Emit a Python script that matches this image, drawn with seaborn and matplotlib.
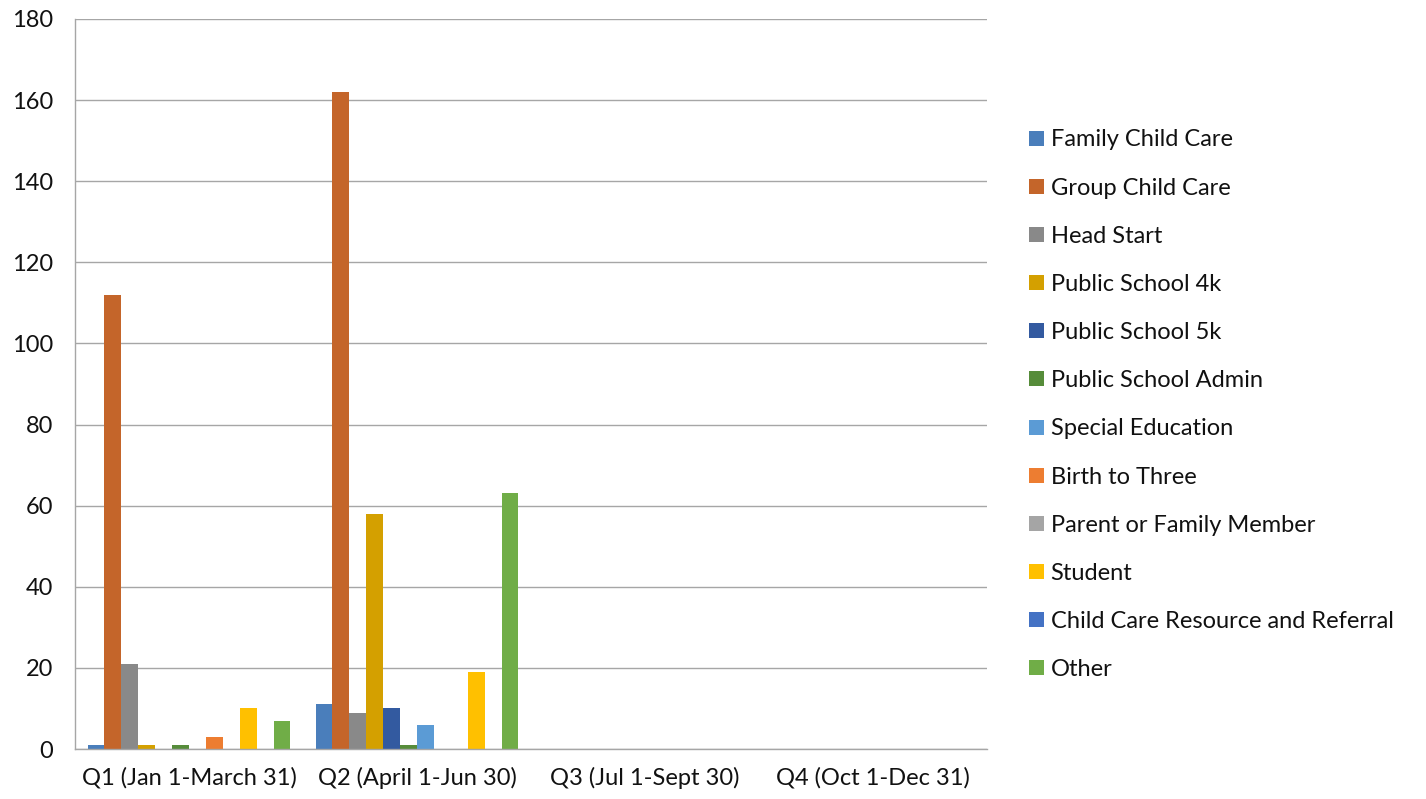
import numpy as np
import pandas as pd
import matplotlib
matplotlib.use("Agg")
import matplotlib.pyplot as plt
import seaborn as sns

# ---- data ----
quarters = ["Q1 (Jan 1-March 31)", "Q2 (April 1-Jun 30)",
            "Q3 (Jul 1-Sept 30)", "Q4 (Oct 1-Dec 31)"]
roles = ["Family Child Care", "Group Child Care", "Head Start",
         "Public School 4k", "Public School 5k", "Public School Admin",
         "Special Education", "Birth to Three", "Parent or Family Member",
         "Student", "Child Care Resource and Referral", "Other"]
q1_counts = [1, 112, 21, 1, 0, 1, 0, 3, 0, 10, 0, 7]
q2_counts = [11, 162, 9, 58, 10, 1, 6, 0, 0, 19, 0, 63]
q3_counts = [0] * 12
q4_counts = [0] * 12
colors = ["#4A7EBB", "#C4652A", "#898989", "#D4A000", "#335AA0", "#568C3A",
          "#5B9BD5", "#ED7D31", "#A5A5A5", "#FFC000", "#4472C4", "#70AD47"]

rows = []
for q, vals in zip(quarters, [q1_counts, q2_counts, q3_counts, q4_counts]):
    for r, v in zip(roles, vals):
        rows.append({"quarter": q, "role": r, "count": v})
df = pd.DataFrame(rows)

sns.set_style("white")
plt.rcParams["font.family"] = ["Lato", "DejaVu Sans"]
plt.rcParams["text.color"] = "#111111"

fig = plt.figure(figsize=(14.26, 7.99), dpi=100)
ax = fig.add_axes([75 / 1426, 1 - 749 / 799, (987 - 75) / 1426, (749 - 19) / 799])

sns.barplot(data=df, x="quarter", y="count", hue="role", order=quarters,
            hue_order=roles, palette=colors, saturation=1, width=0.89,
            linewidth=0, ax=ax, errorbar=None)

ax.set_ylim(0, 180)
ax.set_xlim(-0.5, 3.5)
ax.set_yticks(np.arange(0, 181, 20))
ax.yaxis.grid(True, color="#A6A6A6", linewidth=1)
ax.set_axisbelow(True)
ax.set_xlabel("")
ax.set_ylabel("")
for s in ["top", "right"]:
    ax.spines[s].set_visible(False)
for s in ["left", "bottom"]:
    ax.spines[s].set_color("#A6A6A6")
    ax.spines[s].set_linewidth(1)

ax.tick_params(axis="y", length=8, color="#A6A6A6", labelsize=17, pad=8,
               labelcolor="#111111")
ax.tick_params(axis="x", which="major", length=0, labelsize=17, pad=13,
               labelcolor="#111111")
ax.set_xticks(np.arange(-0.5, 3.6, 1), minor=True)
ax.tick_params(axis="x", which="minor", length=7, color="#A6A6A6")

leg = ax.legend(loc="upper left", bbox_to_anchor=(1020 / 1426, 1 - 120 / 799),
                bbox_transform=fig.transFigure, frameon=False, fontsize=17,
                handlelength=0.6, handleheight=0.6, handletextpad=0.3,
                labelspacing=1.15, borderaxespad=0)

fig.savefig("out.png", dpi=100)
